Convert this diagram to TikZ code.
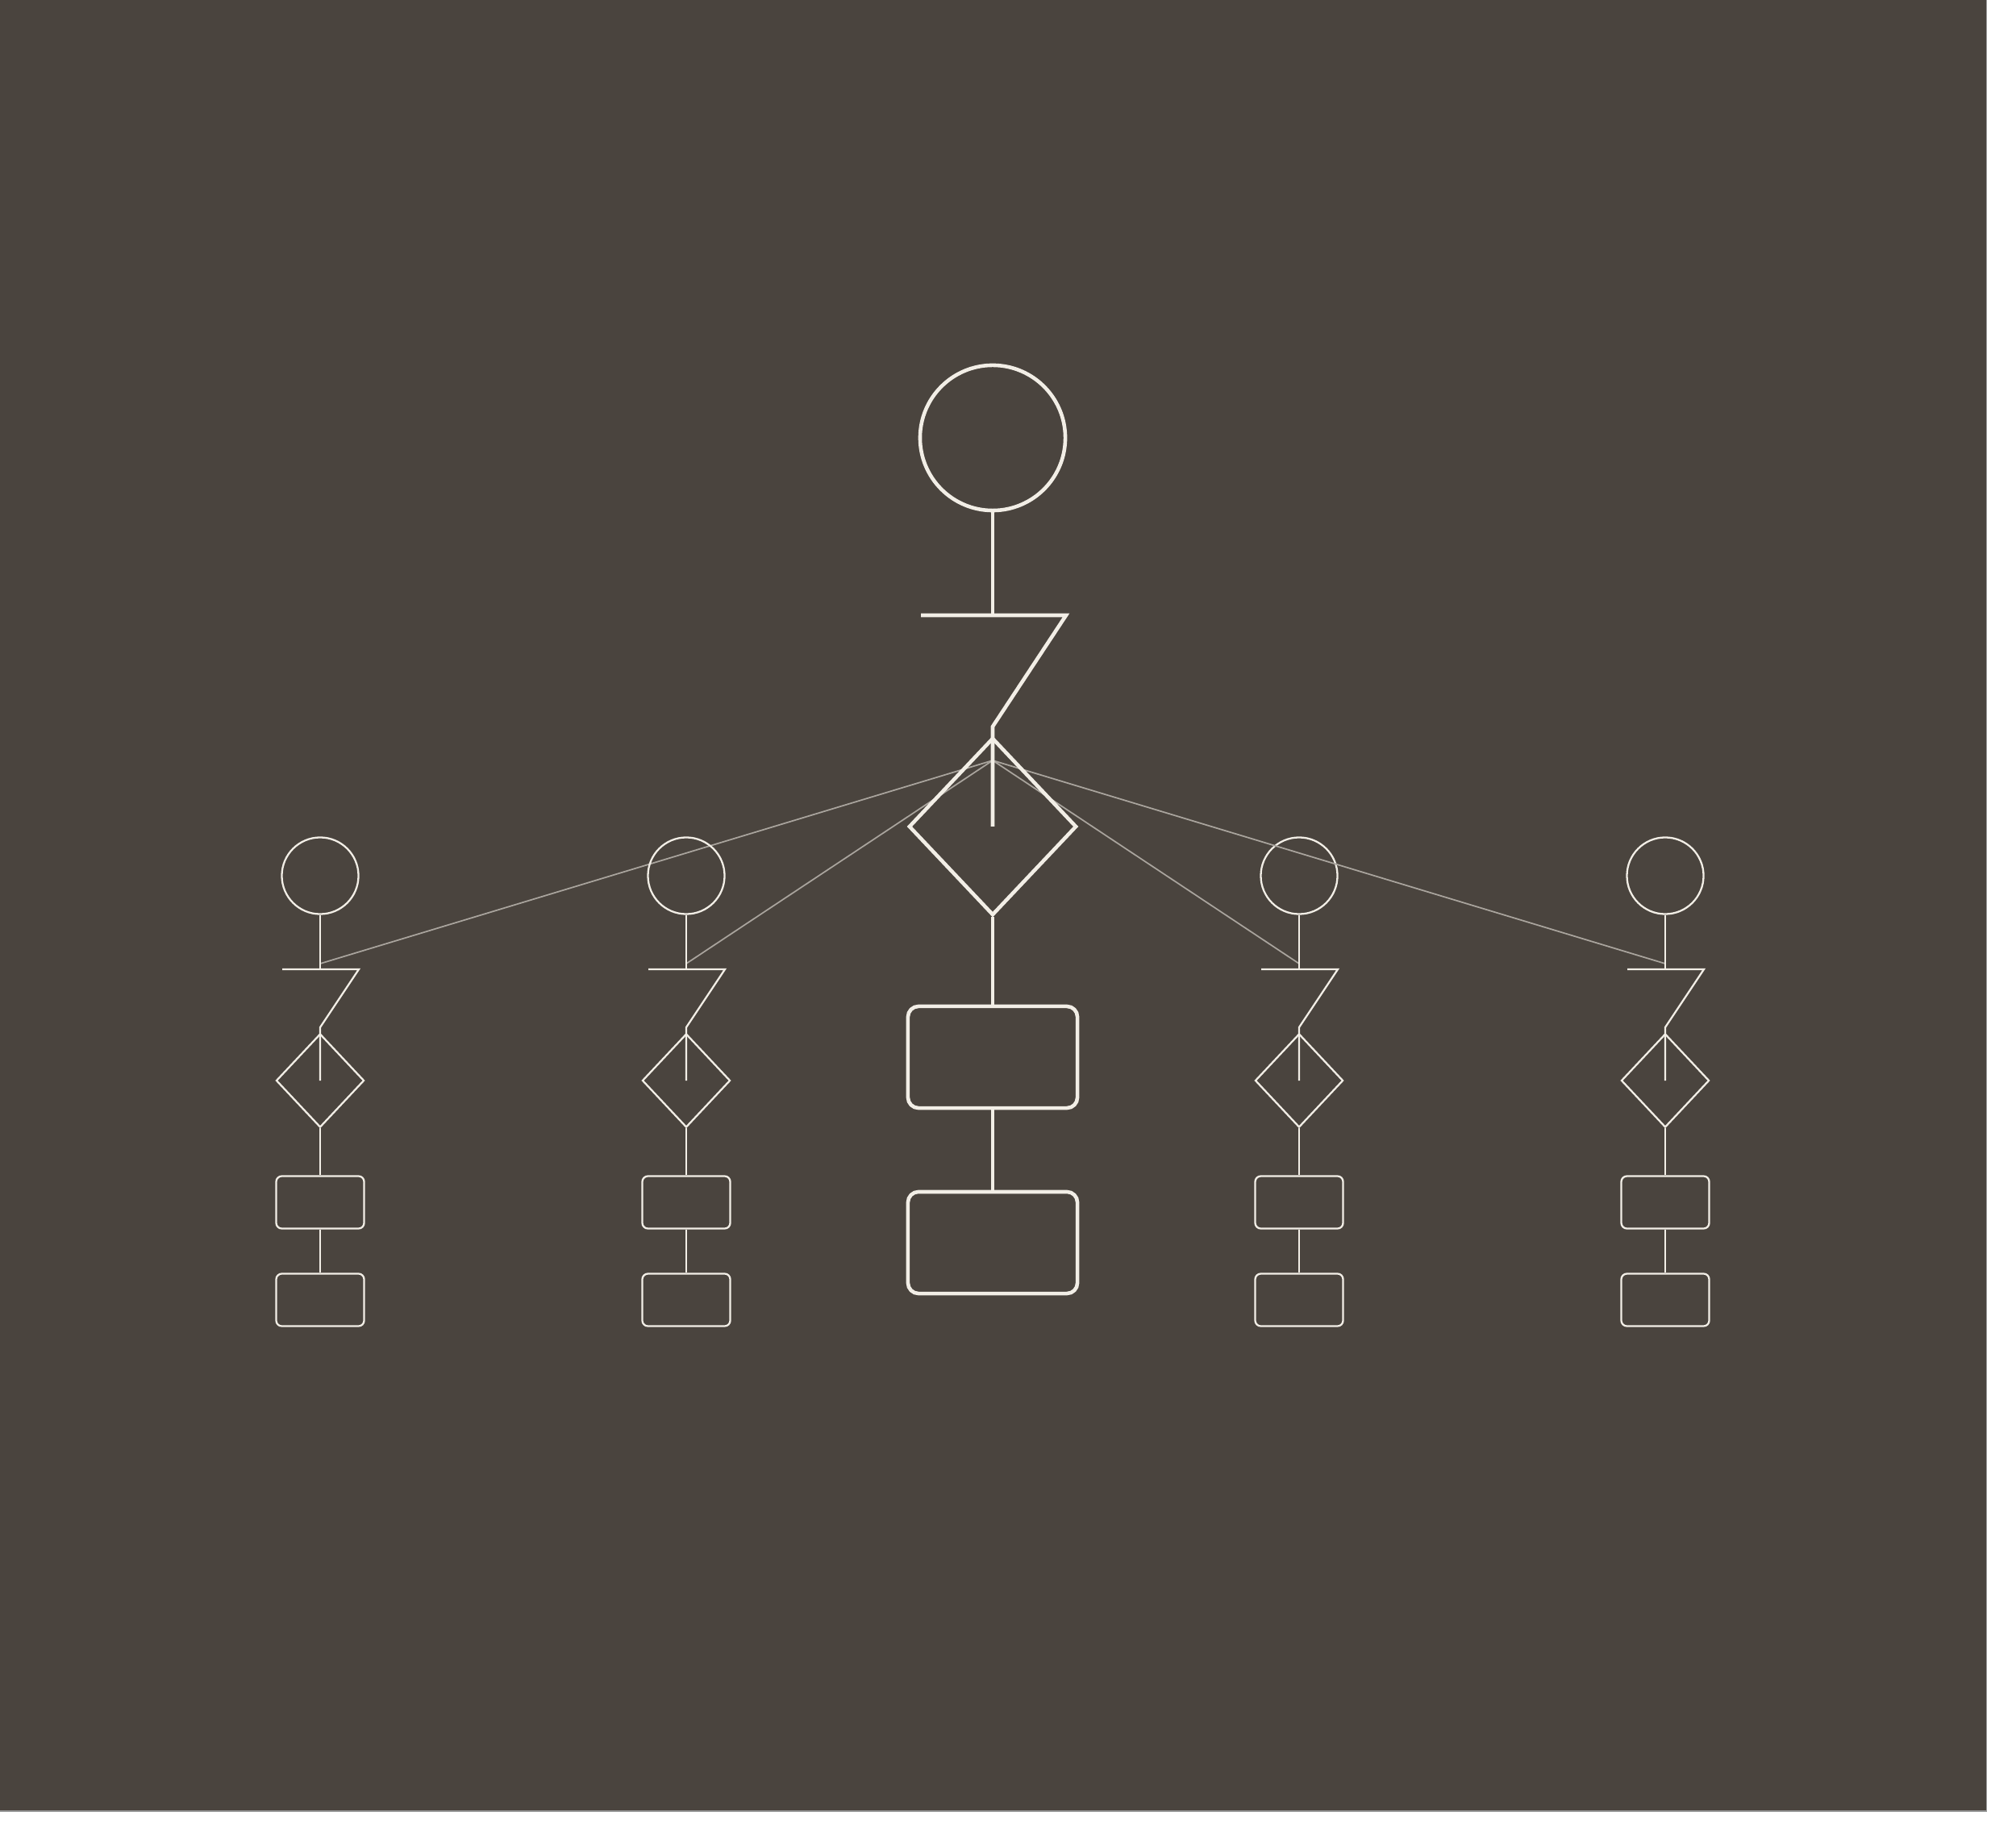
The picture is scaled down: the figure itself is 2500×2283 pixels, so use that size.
\documentclass[tikz,border=0pt]{standalone}
\usepackage{xcolor}
\usepackage{tikz}
\usetikzlibrary{shapes.geometric}
\definecolor{bgbrown}{HTML}{4A443E}
\definecolor{chalk}{HTML}{F2EEE6}
\definecolor{fangrey}{HTML}{A9A49D}
\tikzset{
    shp/.style = {draw=chalk, inner sep=0pt, fill=none},
    big_circle/.style = {shp, circle, minimum size=1.8cm, line width=1.3pt},
    big_diamond/.style = {shp, diamond, minimum width=2.08cm, minimum height=2.2cm, line width=1.3pt},
    big_box/.style = {shp, rectangle, rounded corners=0.13cm, minimum width=2.1cm, minimum height=1.26cm, line width=1.3pt},
    big_line/.style = {draw=chalk, line width=1.3pt},
    small_circle/.style = {shp, circle, minimum size=0.95cm, line width=0.65pt},
    small_diamond/.style = {shp, diamond, minimum width=1.09cm, minimum height=1.16cm, line width=0.65pt},
    small_box/.style = {shp, rectangle, rounded corners=0.07cm, minimum width=1.09cm, minimum height=0.65cm, line width=0.65pt},
    small_line/.style = {draw=chalk, line width=0.65pt},
    fan_line/.style = {draw=fangrey, line width=0.5pt}
}

\begin{document}
\begin{tikzpicture}[x=0.01cm, y=-0.01cm]
    \useasboundingbox (0,0) rectangle (2500,2283);
    \fill[white] (0,0) rectangle (2500,2283);
    \fill[bgbrown] (0,0) rectangle (2463,2246);
    \draw[color=gray!80, line width=0.3pt] (2463,0) -- (2463,2246) -- (0,2246);
    % fan hub
    \coordinate (hub) at (1231,943);
    % side columns
    \foreach \x/\n in {397/a, 851/b, 1611/c, 2065/d} {
        \coordinate (\n_tap) at (\x,1195);
        \draw[fan_line] (hub) -- (\n_tap);
        \node[small_circle] (\n_c) at (\x,1086) {};
        \coordinate (\n_j) at (\x,1202);
        \coordinate (\n_zl) at (\x-47,1202);
        \coordinate (\n_zr) at (\x+48,1202);
        \coordinate (\n_zb) at (\x,1274);
        \node[small_diamond] (\n_d) at (\x,1340) {};
        \node[small_box] (\n_b1) at (\x,1491) {};
        \node[small_box] (\n_b2) at (\x,1612) {};
        \draw[small_line] (\n_c.south) -- (\n_j);
        \draw[small_line] (\n_zl) -- (\n_zr) -- (\n_zb) -- (\n_d.center);
        \draw[small_line] (\n_d.south) -- (\n_b1.north);
        \draw[small_line] (\n_b1.south) -- (\n_b2.north);
    }
    % centre column
    \node[big_circle] (top_c) at (1231,543) {};
    \coordinate (top_j) at (1231,763);
    \coordinate (top_zl) at (1142,763);
    \coordinate (top_zr) at (1322,763);
    \coordinate (top_zb) at (1231,901);
    \node[big_diamond] (top_d) at (1231,1025) {};
    \node[big_box] (top_b1) at (1231,1311) {};
    \node[big_box] (top_b2) at (1231,1541) {};
    \draw[big_line] (top_c.south) -- (top_j);
    \draw[big_line] (top_zl) -- (top_zr) -- (top_zb) -- (top_d.center);
    \draw[big_line] (top_d.south) -- (top_b1.north);
    \draw[big_line] (top_b1.south) -- (top_b2.north);
\end{tikzpicture}
\end{document}
